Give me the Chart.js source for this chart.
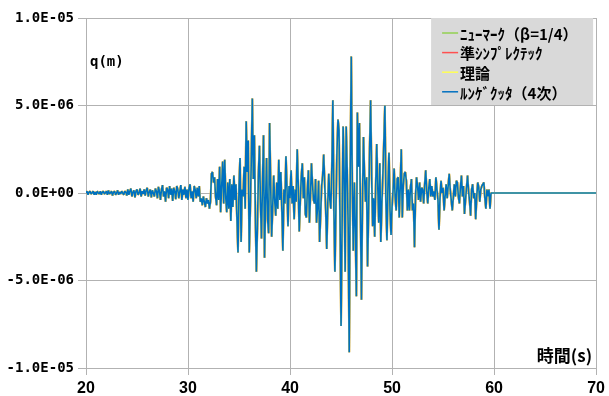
<!DOCTYPE html>
<html>
<head>
<meta charset="utf-8">
<script src="https://cdn.jsdelivr.net/npm/chart.js@4.4.0/dist/chart.umd.min.js"></script>
<style>
  html, body { margin: 0; padding: 0; background: #ffffff; }
  #wrap { width: 609px; height: 396px; }
</style>
</head>
<body>
<div id="wrap"><canvas id="c" width="609" height="396"></canvas></div>
<script>
// Sampling of the response record (s)
const T_START = 20;
const T_STEP = 0.1;
const T_END = 70;

// Displacement q in micrometres, one value every 0.1 s from 20.0 s to 60.0 s
const dispMicro = [
  0.0, 0.1, -0.1, 0.05, 0.1, -0.05, 0.0, 0.1, -0.1, 0.05,
  -0.1, 0.1, 0.0, -0.05, 0.1, -0.1, 0.05, 0.1, -0.05, 0.0,
  0.1, -0.1, 0.15, -0.05, 0.0, 0.1, -0.15, 0.05, 0.1, -0.1,
  0.0, 0.15, -0.1, 0.05, -0.05, 0.1, 0.0, -0.1, 0.1, 0.05,
  -0.15, 0.2, -0.1, 0.1, 0.25, -0.2, 0.05, 0.15, -0.25, 0.1,
  0.2, -0.1, 0.0, 0.25, -0.2, 0.1, -0.05, 0.2, -0.15, 0.15,
  0.3, -0.2, 0.05, 0.2, -0.25, 0.15, 0.0, -0.2, 0.25, 0.1,
  -0.3, 0.35, 0.1, -0.4, 0.2, 0.45, -0.2, 0.1, -0.5, 0.3,
  0.2, -0.3, 0.4, -0.1, 0.25, -0.45, 0.3, 0.1, -0.35, 0.4,
  0.2, -0.3, 0.1, 0.45, -0.4, 0.2, -0.1, 0.35, -0.3, 0.2,
  -0.4, 0.3, 0.5, -0.3, 0.1, -0.5, 0.4, 0.2, -0.3, 0.3,
  -0.2, 0.4, -0.5, -0.3, -0.7, -0.2, -0.5, -0.8, -0.3, -0.6,
  -0.4, -0.9, -0.5, 1.1, 1.2, 0.6, 0.9, -0.2, -0.7, 0.8,
  -0.4, 1.5, -1.1, 0.4, 1.8, -0.6, 1.9, -0.3, -1.1, 0.6,
  -0.9, 0.8, -1.6, 0.5, -0.8, 1.0, -0.4, 0.5, -1.5, -3.4,
  0.4, 2.0, -2.8, 0.2, -0.2, 1.5, -0.9, 4.1, 1.2, 3.0,
  -3.4, -1.0, 1.8, 5.4, 0.8, 3.3, -1.2, -4.5, -2.0, 1.0,
  2.7, -0.5, -2.6, 0.5, 3.3, -3.7, -0.5, 2.0, -1.5, -2.3,
  4.0, 0.5, -2.5, -0.8, 1.0, -0.5, -1.3, 0.6, -0.9, 1.9,
  -0.4, 1.2, -1.0, -3.3, 0.2, -0.6, 2.1, 0.3, -1.9, 0.4,
  -0.3, 1.3, -0.6, 0.4, -1.5, 0.2, -0.5, 2.5, 0.6, -2.2,
  -0.5, 0.9, 1.7, -0.3, 0.9, -1.2, -1.4, 0.2, 1.3, -1.7,
  -0.2, 1.7, 0.5, -0.4, -0.6, 0.8, -1.7, -0.8, 0.7, -2.8,
  -1.2, 0.4, 1.0, 2.2, 0.5, -1.0, -3.2, -0.6, 1.1, -0.4,
  -0.9, 1.5, 5.3, -1.0, -4.5, -0.8, 2.4, 4.2, 3.6, -1.5,
  -7.6, -2.0, 3.8, 1.2, -4.5, 3.8, 1.3, -2.0, -9.1, 1.0,
  7.8, 0.5, -3.3, 0.6, -2.0, -5.9, 4.6, 1.5, 4.0, -1.0,
  -6.1, -0.5, 3.2, 1.0, -0.5, 0.9, -4.2, -1.0, 2.5, 5.3,
  1.0, -1.9, -0.3, -2.5, 0.5, 2.8, 0.3, -1.7, 1.7, -2.8,
  -0.6, 1.0, 3.0, 5.0, -0.5, -2.7, 0.5, 2.3, -1.0, -2.4,
  -0.8, 0.2, 1.4, -0.2, -1.0, 0.8, 0.9, -1.4, 0.3, 2.5,
  -1.4, 0.4, 1.1, 1.2, 0.7, -1.0, 0.2, -1.0, 0.3, 0.8,
  -1.0, -0.6, -3.1, -0.2, 0.9, 0.4, -0.4, 0.6, -0.5, 0.3,
  0.2, -0.6, 0.5, 1.3, 0.1, -0.6, 0.3, 0.8, -0.2, 0.4,
  -0.2, 0.1, -0.4, 0.9, 0.2, -0.4, -2.1, -0.3, 0.7, 0.0,
  0.3, -1.0, -0.2, 0.5, -0.3, 0.4, 1.1, 0.2, -0.4, -1.0,
  -0.3, 0.5, -0.2, 0.7, 0.6, -0.2, -0.6, 0.3, 1.0, -0.2,
  0.4, -1.2, -0.4, 0.3, 1.0, 0.1, -0.5, -1.3, 0.2, 0.5,
  -0.3, 0.0, -1.5, -0.2, 0.6, 0.3, -0.5, 0.2, 0.4, 0.5,
  0.6, -0.3, -0.9, 0.2, -0.2, 0.2, -0.9, 0.0, 0.0, 0.0,
  0.0
];
const MICRO = 1e-6;

// Series (integration schemes) and their colours
const seriesNames = ['ﾆｭｰﾏｰｸ（β=1/4）', '準ｼﾝﾌﾟﾚｸﾃｯｸ', '理論', 'ﾙﾝｹﾞｸｯﾀ（4次）'];
const seriesColors = ['#92d050', '#ff5050', '#ffff55', '#0070c0'];
const seriesWidths = [1.9, 1.9, 1.9, 1.6];

// Axis ticks and captions
const xTicks = [20, 30, 40, 50, 60, 70];
const yTicks = [-1e-5, -5e-6, 0, 5e-6, 1e-5];
const yTickLabels = ['-1.0E-05', '-5.0E-06', '0.0E+00', '5.0E-06', '1.0E-05'];
const yCaption = 'q(m)';
const xCaption = '時間(s)';

// Build (t, q) points: the record, then the quiet tail up to T_END
function buildPoints() {
  const pts = dispMicro.map((v, i) => ({ x: +(T_START + i * T_STEP).toFixed(2), y: v * MICRO }));
  pts.push({ x: T_END, y: 0 });
  return pts;
}

const datasets = seriesNames.map((name, i) => ({
  label: name,
  data: buildPoints(),
  borderColor: seriesColors[i],
  backgroundColor: seriesColors[i],
  borderWidth: seriesWidths[i],
  pointRadius: 0,
  tension: 0,
  fill: false,
  borderJoinStyle: 'bevel',
  order: seriesNames.length - 1 - i
}));

const GRID = '#b2b2b2';

// Captions inside the plot and the boxed legend at the top right
const overlay = {
  id: 'overlay',
  afterDatasetsDraw(chart) {
    const { ctx, chartArea: a } = chart;
    ctx.save();
    ctx.fillStyle = '#000';
    ctx.textBaseline = 'middle';

    ctx.font = 'bold 14px "DejaVu Sans Mono"';
    ctx.textAlign = 'left';
    ctx.fillText(yCaption, a.left + 4, a.top + 44);

    ctx.font = 'bold 17px "Noto Sans CJK JP"';
    ctx.textAlign = 'right';
    ctx.fillText(xCaption, a.right - 4, a.bottom - 12);

    // legend box
    const bx = a.right - 165, by = a.top, bw = 162, bh = 87;
    ctx.fillStyle = '#d9d9d9';
    ctx.fillRect(bx, by, bw, bh);
    ctx.font = 'bold 15px "Noto Sans CJK JP"';
    ctx.textAlign = 'left';
    chart.data.datasets.forEach((ds, i) => {
      const cy = by + 15 + i * 19.6;
      ctx.strokeStyle = ds.borderColor;
      ctx.lineWidth = 1.5;
      ctx.beginPath();
      ctx.moveTo(bx + 11, cy);
      ctx.lineTo(bx + 27, cy);
      ctx.stroke();
      ctx.fillStyle = '#000';
      ctx.fillText(ds.label, bx + 29, cy + 1);
    });
    ctx.restore();
  }
};

new Chart(document.getElementById('c'), {
  type: 'line',
  data: { datasets },
  options: {
    responsive: false,
    animation: false,
    devicePixelRatio: 1,
    layout: { padding: { left: 0, right: 12, top: 18, bottom: 0 } },
    plugins: { legend: { display: false }, tooltip: { enabled: false } },
    scales: {
      x: {
        type: 'linear',
        min: 20,
        max: 70,
        afterBuildTicks: s => { s.ticks = xTicks.map(v => ({ value: v })); },
        afterFit: s => { s.height = 28; },
        grid: { color: GRID, lineWidth: 1, tickLength: 7, drawTicks: true },
        border: { display: true, color: GRID },
        ticks: {
          color: '#000',
          padding: 4,
          maxRotation: 0,
          font: { family: '"Liberation Sans"', size: 16, weight: 'bold' }
        }
      },
      y: {
        type: 'linear',
        min: -1e-5,
        max: 1e-5,
        afterBuildTicks: s => { s.ticks = yTicks.map(v => ({ value: v })); },
        afterFit: s => { s.width = 86; },
        grid: { color: GRID, lineWidth: 1, tickLength: 8, drawTicks: true },
        border: { display: true, color: GRID },
        ticks: {
          color: '#000',
          padding: 4,
          callback: (v, i) => yTickLabels[i],
          font: { family: '"DejaVu Sans Mono"', size: 14, weight: 'bold' }
        }
      }
    }
  },
  plugins: [overlay]
});
</script>
</body>
</html>
